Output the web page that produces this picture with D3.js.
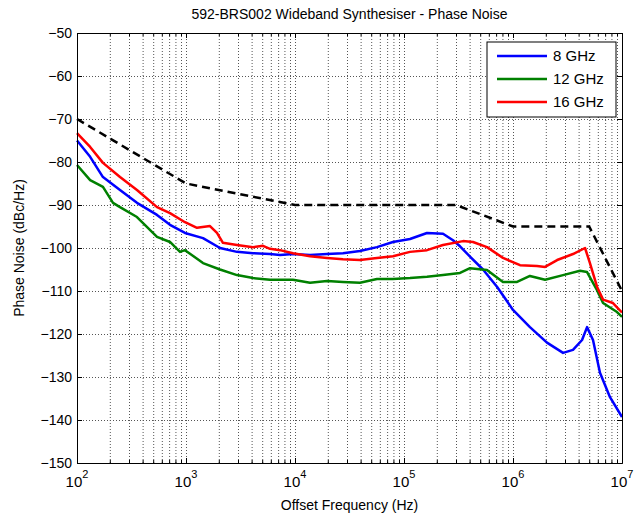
<!DOCTYPE html>
<html>
<head>
<meta charset="utf-8">
<script src="https://cdn.jsdelivr.net/npm/d3@7"></script>
<style>
  body { margin: 0; background: #fff; }
  text { font-family: "Liberation Sans", Arial, sans-serif; fill: #000; }
</style>
</head>
<body>
<svg id="chart"></svg>
<script>
// values: [offset frequency (Hz), phase noise (dBc/Hz)]
const seriesNames = ["8 GHz", "12 GHz", "16 GHz"];

const ghz8 = [
  [100, -75], [132, -78.8], [173, -83.5], [248, -86.5], [355, -89.5], [542, -92.3],
  [713, -94.6], [979, -96.5], [1432, -97.7], [2050, -100], [2935, -100.9], [4120, -101.2],
  [5900, -101.4], [7280, -101.6], [9590, -101.4], [13740, -101.6], [19670, -101.4],
  [27560, -101.2], [39450, -100.7], [56490, -99.8], [79200, -98.6], [113500, -97.9],
  [162500, -96.5], [228000, -96.7], [281600, -98.2], [326500, -99.6], [403300, -102],
  [530500, -105], [713000, -109], [1.0e6, -114.4], [1.43e6, -118.4], [2.05e6, -122],
  [2.88e6, -124.4], [3.55e6, -123.7], [4.3e6, -121.4], [4.78e6, -118.4], [5.42e6, -121.4],
  [6.28e6, -129], [7.76e6, -134.7], [1e7, -139.3]
];

const ghz12 = [
  [100, -80.7], [132, -84.2], [173, -85.8], [214, -89.5], [248, -90.5], [355, -92.8],
  [542, -97.4], [713, -98.6], [881, -100.9], [979, -100.5], [1432, -103.5], [2050, -105],
  [2935, -106.3], [4120, -107], [5900, -107.4], [7280, -107.4], [9590, -107.4],
  [13740, -108.1], [19670, -107.7], [27560, -107.9], [39450, -108.1], [56490, -107.2],
  [79200, -107.2], [113500, -107], [162500, -106.7], [228000, -106.3], [326500, -105.8],
  [403300, -104.7], [577000, -105.1], [809000, -107.9], [1.09e6, -107.9], [1.43e6, -106.5],
  [1.97e6, -107.4], [2.88e6, -106.3], [4.12e6, -105.3], [4.78e6, -105.6], [5.9e6, -109.8],
  [6.7e6, -112.8], [9.0e6, -114.9], [1e7, -116]
];

const ghz16 = [
  [100, -73.3], [132, -76.5], [173, -80.2], [248, -83.5], [355, -86.5], [542, -90.5],
  [713, -91.9], [979, -94], [1262, -95.3], [1660, -94.9], [1924, -96.5], [2183, -98.8],
  [2935, -99.3], [4120, -99.8], [5085, -99.5], [5900, -100.2], [7280, -100.5],
  [9590, -101.2], [13740, -101.9], [19670, -102.3], [27560, -102.6], [39450, -102.8],
  [56490, -102.3], [79200, -101.9], [113500, -100.9], [162500, -100.5], [228000, -99.3],
  [347800, -98.4], [429700, -98.6], [577000, -99.8], [809000, -102.3], [1.16e6, -104],
  [1.66e6, -104.2], [1.97e6, -104.4], [2.54e6, -102.8], [3.55e6, -101.4], [4.58e6, -100],
  [5.08e6, -103.5], [5.9e6, -109], [6.7e6, -112], [8.26e6, -112.8], [1e7, -115]
];

// spec mask (dashed)
const specMask = [
  [100, -70], [1e3, -85], [1e4, -90], [3e5, -90], [1e6, -95], [5e6, -95], [1e7, -110]
];

const xTickExponents = [2, 3, 4, 5, 6, 7];
const yTicks = [-50, -60, -70, -80, -90, -100, -110, -120, -130, -140, -150];

const svgWidth = 635;
const svgHeight = 522;
const margin = { top: 33, right: 13, bottom: 59, left: 77 };
const width = svgWidth - margin.left - margin.right;
const height = svgHeight - margin.top - margin.bottom;

const svg = d3.select("#chart")
    .attr("width", svgWidth)
    .attr("height", svgHeight);

const g = svg.append("g")
    .attr("transform", `translate(${margin.left},${margin.top})`);

const x = d3.scaleLog()
    .domain([1e2, 1e7])
    .range([0, width]);

const y = d3.scaleLinear()
    .domain([-150, -50])
    .range([height, 0]);

const majors = xTickExponents.map(e => Math.pow(10, e));
const minors = [];
xTickExponents.slice(0, -1).forEach(e => {
    for (let k = 2; k <= 9; k++) minors.push(k * Math.pow(10, e));
});

// dotted grid
const grid = g.append("g").attr("class", "grid");
grid.append("g")
    .attr("transform", `translate(0,${height})`)
    .call(d3.axisBottom(x).tickValues(majors.concat(minors)).tickSize(-height).tickFormat(""));
grid.append("g")
    .call(d3.axisLeft(y).tickValues(yTicks).tickSize(-width).tickFormat(""));
grid.selectAll("line")
    .attr("stroke", "#555")
    .attr("stroke-dasharray", "1,2");
grid.selectAll(".domain").remove();

// data lines
const line = d3.line()
    .x(d => x(d[0]))
    .y(d => y(d[1]));

g.append("path")
    .datum(specMask)
    .attr("fill", "none")
    .attr("stroke", "#000")
    .attr("stroke-width", 2.5)
    .attr("stroke-dasharray", "8,5")
    .attr("d", line);

const series = [
    { name: seriesNames[0], values: ghz8, color: "#0000ff" },
    { name: seriesNames[1], values: ghz12, color: "#008000" },
    { name: seriesNames[2], values: ghz16, color: "#ff0000" }
];

g.selectAll(".series")
    .data(series)
    .enter()
    .append("path")
    .attr("class", "series")
    .attr("fill", "none")
    .attr("stroke", d => d.color)
    .attr("stroke-width", 2.5)
    .attr("stroke-linejoin", "round")
    .attr("d", d => line(d.values));

// axes, ticks inside on all four sides
const axisStyle = sel => {
    sel.selectAll(".domain").attr("stroke", "#000");
    sel.selectAll("line").attr("stroke", "#000");
};

g.append("g")
    .attr("transform", `translate(0,${height})`)
    .call(d3.axisBottom(x).tickValues(majors).tickSize(-5).tickSizeOuter(0).tickFormat(""))
    .call(axisStyle);
g.append("g")
    .attr("transform", `translate(0,${height})`)
    .call(d3.axisBottom(x).tickValues(minors).tickSize(-3).tickSizeOuter(0).tickFormat(""))
    .call(axisStyle);
g.append("g")
    .call(d3.axisTop(x).tickValues(majors).tickSize(-5).tickSizeOuter(0).tickFormat(""))
    .call(axisStyle);
g.append("g")
    .call(d3.axisTop(x).tickValues(minors).tickSize(-3).tickSizeOuter(0).tickFormat(""))
    .call(axisStyle);

g.append("g")
    .call(d3.axisLeft(y).tickValues(yTicks).tickSize(-5).tickSizeOuter(0).tickPadding(5))
    .call(axisStyle)
    .selectAll("text")
    .style("font-size", "14px")
    .style("font-family", "Liberation Sans, Arial, sans-serif");
g.append("g")
    .attr("transform", `translate(${width},0)`)
    .call(d3.axisRight(y).tickValues(yTicks).tickSize(-5).tickSizeOuter(0).tickFormat(""))
    .call(axisStyle);

// 10^n labels
const xLabels = g.append("g")
    .selectAll("text")
    .data(xTickExponents)
    .enter()
    .append("text")
    .attr("x", d => x(Math.pow(10, d)))
    .attr("y", height + 24)
    .attr("text-anchor", "middle")
    .style("font-size", "15px");
xLabels.append("tspan").text("10");
xLabels.append("tspan")
    .attr("dy", -9)
    .style("font-size", "11px")
    .text(d => d);

// titles
svg.append("text")
    .attr("x", margin.left + width / 2)
    .attr("y", 19)
    .attr("text-anchor", "middle")
    .style("font-size", "14px")
    .text("592-BRS002 Wideband Synthesiser - Phase Noise");

svg.append("text")
    .attr("x", margin.left + width / 2)
    .attr("y", 510)
    .attr("text-anchor", "middle")
    .style("font-size", "14px")
    .text("Offset Frequency (Hz)");

svg.append("text")
    .attr("transform", `translate(24,${margin.top + height / 2}) rotate(-90)`)
    .attr("text-anchor", "middle")
    .style("font-size", "14px")
    .text("Phase Noise (dBc/Hz)");

// legend
const legend = g.append("g")
    .attr("transform", `translate(${width - 135},9)`);
legend.append("rect")
    .attr("width", 129)
    .attr("height", 75)
    .attr("fill", "#fff")
    .attr("stroke", "#000");
const items = legend.selectAll(".item")
    .data(series)
    .enter()
    .append("g")
    .attr("transform", (d, i) => `translate(0,${14 + i * 23})`);
items.append("line")
    .attr("x1", 10)
    .attr("x2", 60)
    .attr("stroke", d => d.color)
    .attr("stroke-width", 2.5);
items.append("text")
    .attr("x", 66)
    .attr("dy", "0.35em")
    .style("font-size", "15px")
    .text(d => d.name);
</script>
</body>
</html>
